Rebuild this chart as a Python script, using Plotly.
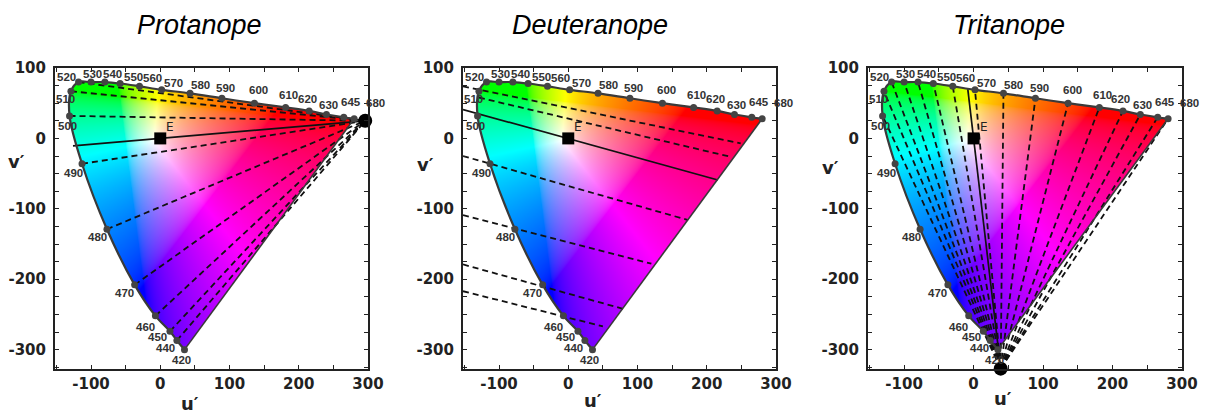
import base64
import struct
import zlib

import numpy as np
import plotly.graph_objects as go

# ---------------- data (u', v' scaled, equal-energy white E at the origin) ----------------
wavelengths = [420, 440, 450, 460, 470, 480, 490, 500, 510, 520, 530, 540,
               550, 560, 570, 580, 590, 600, 610, 620, 630, 645, 680]
locus_u = [35, 24, 14, -7, -37, -77, -113, -131, -129, -118, -100, -80,
           -58, -30, 2, 43, 89, 136, 181, 215, 240, 265, 280]
locus_v = [-300, -287, -274, -252, -208, -129, -36, 32, 67, 80, 80, 80,
           78, 74, 69, 64, 57, 50, 44, 39, 34, 30, 28]

white_u, white_v = 0, 0

# protanope: confusion lines from spectral points to the copunctal point
protan_copunct = (296, 25)
protan_from = [520, 510, 500, 490, 480, 470, 460, 450, 440]
protan_solid_start_u = -126

# deuteranope: confusion line segments
deutan_u0 = [-152, -129, -152, -152, -152, -152]
deutan_v0 = [74, 58, -25, -109, -179, -217]
deutan_u1 = [249, 234, 173, 120, 79, 50]
deutan_v1 = [-7, -26, -116, -178, -242, -267]
deutan_solid_u = [-152, 216]
deutan_solid_v = [41, -59]

# tritanope: confusion lines from the copunctal point to spectral points
tritan_copunct = (39, -327)
tritan_to = [500, 510, 520, 530, 540, 550, 560, 570, 580, 590,
             600, 610, 620, 630, 645, 680]
tritan_solid_end_v = 70

titles = ["Protanope", "Deuteranope", "Tritanope"]
x_ticks = [-150, -100, -50, 0, 50, 100, 150, 200, 250, 300]
y_ticks = list(range(-325, 101, 25))

# ---------------- styling ----------------
X_RANGE = [-152, 300]
Y_RANGE = [-327.5, 100]
X_DOMAINS = [(55 / 1205, 368 / 1205), (463 / 1205, 776 / 1205), (868 / 1205, 1182 / 1205)]
Y_DOMAIN = (1 - 369 / 413, 1 - 68 / 413)
TITLE_X = [199 / 1205, 590 / 1205, 1009 / 1205]
ULABEL_X = [190 / 1205, 593 / 1205, 1003 / 1205]
ULABEL_Y = [403, 400, 398]
VLABEL_X = [16 / 1205, 425 / 1205, 830 / 1205]
VLABEL_Y = [161, 165, 167]

# pixel offsets of each wavelength label from its point (dx right, dy up)
label_shift = {420: (-3, -10), 440: (-11, -8), 450: (-12, -6), 460: (-10, -11),
               470: (-10, -8), 480: (-9, -8), 490: (-9, -9), 500: (-2, -10),
               510: (-5, -8), 520: (-12, 5), 530: (1, 8), 540: (8, 8),
               550: (13, 6), 560: (13, 8), 570: (12, 7), 580: (10, 8),
               590: (4, 10), 600: (4, 13), 610: (3, 12), 620: (-2, 12),
               630: (2, 9), 645: (7, 15), 680: (21, 16)}

LOCUS_COLOR = "#3a3a3a"
DASH = "6px,4px"


def locus_point(wl):
    i = wavelengths.index(wl)
    return locus_u[i], locus_v[i]


def smooth_outline(us, vs, n=14):
    """Closed Catmull-Rom outline of the spectral locus (used to clip the colour fill)."""
    pts = np.column_stack([us, vs]).astype(float)
    P = np.vstack([pts[0], pts, pts[-1]])
    out = []
    for i in range(1, len(P) - 2):
        p0, p1, p2, p3 = P[i - 1], P[i], P[i + 1], P[i + 2]
        for t in np.linspace(0, 1, n, endpoint=False):
            t2, t3 = t * t, t * t * t
            out.append(0.5 * (2 * p1 + (-p0 + p2) * t
                              + (2 * p0 - 5 * p1 + 4 * p2 - p3) * t2
                              + (-p0 + 3 * p1 - 3 * p2 + p3) * t3))
    out.append(pts[-1])
    return np.array(out)


def inside_polygon(poly, X, Y):
    res = np.zeros(X.shape, dtype=bool)
    n = len(poly)
    j = n - 1
    for i in range(n):
        xi, yi = poly[i]
        xj, yj = poly[j]
        cond = ((yi > Y) != (yj > Y)) & (X < (xj - xi) * (Y - yi) / (yj - yi + 1e-12) + xi)
        res ^= cond
        j = i
    return res


def png_data_uri(rgba):
    """Encode an HxWx4 uint8 array (row 0 at the top) as a PNG data URI."""
    h, w, _ = rgba.shape
    raw = b"".join(b"\x00" + rgba[r].tobytes() for r in range(h))

    def chunk(tag, data):
        body = tag + data
        return struct.pack(">I", len(data)) + body + struct.pack(">I", zlib.crc32(body) & 0xFFFFFFFF)

    png = (b"\x89PNG\r\n\x1a\n"
           + chunk(b"IHDR", struct.pack(">IIBBBBB", w, h, 8, 6, 0, 0, 0))
           + chunk(b"IDAT", zlib.compress(raw, 9))
           + chunk(b"IEND", b""))
    return "data:image/png;base64," + base64.b64encode(png).decode()


def chromaticity_fill(step=1.0):
    u0, u1 = min(locus_u) - 5, max(locus_u) + 5
    v0, v1 = min(locus_v) - 5, max(locus_v) + 5
    nu = int(round((u1 - u0) / step))
    nv = int(round((v1 - v0) / step))
    us = u0 + (np.arange(nu) + 0.5) * step
    vs = v1 - (np.arange(nv) + 0.5) * step          # top row first
    U, V = np.meshgrid(us, vs)
    # plot units back to CIE 1976 u'v'
    up = 0.2105 + U / 680.0
    vp = 0.4737 + V / 660.0
    d = 6 * up - 16 * vp + 12
    x = 9 * up / d
    y = np.maximum(4 * vp / d, 1e-4)
    XYZ = np.stack([x / y, np.ones_like(x), (1 - x - y) / y], axis=-1)
    M = np.array([[3.2406, -1.5372, -0.4986],
                  [-0.9689, 1.8758, 0.0415],
                  [0.0557, -0.2040, 1.0570]])
    rgb = np.clip(XYZ @ M.T, 0, None)
    rgb = rgb / np.maximum(rgb.max(axis=-1, keepdims=True), 1e-9)
    rgb = np.where(rgb <= 0.0031308, 12.92 * rgb, 1.055 * rgb ** (1 / 2.4) - 0.055)
    poly = smooth_outline(locus_u, locus_v)
    alpha = inside_polygon(poly, U, V).astype(float)
    rgba = np.concatenate([rgb, alpha[..., None]], axis=-1)
    rgba = np.round(np.clip(rgba, 0, 1) * 255).astype(np.uint8)
    return png_data_uri(rgba), u0, v1, nu * step, nv * step


fill_src, fill_left, fill_top, fill_w, fill_h = chromaticity_fill()

fig = go.Figure()


def add_panel(k):
    xa = "x" if k == 1 else f"x{k}"
    ya = "y" if k == 1 else f"y{k}"
    fig.add_layout_image(source=fill_src, xref=xa, yref=ya, x=fill_left, y=fill_top,
                         sizex=fill_w, sizey=fill_h, xanchor="left", yanchor="top",
                         sizing="stretch", layer="below")

    dash_u, dash_v = [], []
    dot = None
    if k == 1:
        pu, pv = protan_copunct
        for wl in protan_from:
            lu, lv = locus_point(wl)
            dash_u += [lu, pu, None]
            dash_v += [lv, pv, None]
        su = protan_solid_start_u
        sv = white_v + (su - white_u) * (pv - white_v) / (pu - white_u)
        solid_u, solid_v = [su, pu], [sv, pv]
        dot = protan_copunct
    elif k == 2:
        for a, b, c, d in zip(deutan_u0, deutan_v0, deutan_u1, deutan_v1):
            dash_u += [a, c, None]
            dash_v += [b, d, None]
        solid_u, solid_v = deutan_solid_u, deutan_solid_v
    else:
        tu, tv = tritan_copunct
        for wl in tritan_to:
            lu, lv = locus_point(wl)
            dash_u += [tu, lu, None]
            dash_v += [tv, lv, None]
        ev = tritan_solid_end_v
        eu = white_u + (ev - white_v) * (tu - white_u) / (tv - white_v)
        solid_u, solid_v = [tu, eu], [tv, ev]
        dot = tritan_copunct

    fig.add_trace(go.Scatter(x=dash_u, y=dash_v, mode="lines", hoverinfo="skip",
                             line=dict(color="#111", width=1.8, dash=DASH),
                             xaxis=xa, yaxis=ya, showlegend=False))
    fig.add_trace(go.Scatter(x=solid_u, y=solid_v, mode="lines", hoverinfo="skip",
                             line=dict(color="#111", width=1.7),
                             xaxis=xa, yaxis=ya, showlegend=False))
    # spectral locus and the line of purples
    fig.add_trace(go.Scatter(x=locus_u, y=locus_v, mode="lines", hoverinfo="skip",
                             line=dict(color=LOCUS_COLOR, width=2.2, shape="spline", smoothing=1),
                             xaxis=xa, yaxis=ya, showlegend=False))
    fig.add_trace(go.Scatter(x=[locus_u[-1], locus_u[0]], y=[locus_v[-1], locus_v[0]],
                             mode="lines", hoverinfo="skip",
                             line=dict(color=LOCUS_COLOR, width=1.6),
                             xaxis=xa, yaxis=ya, showlegend=False))
    fig.add_trace(go.Scatter(x=locus_u, y=locus_v, mode="markers", hoverinfo="skip",
                             marker=dict(color="#444", size=7),
                             xaxis=xa, yaxis=ya, showlegend=False))
    fig.add_trace(go.Scatter(x=[white_u], y=[white_v], mode="markers", hoverinfo="skip",
                             marker=dict(color="#000", size=12, symbol="square"),
                             xaxis=xa, yaxis=ya, showlegend=False))
    if dot is not None:
        fig.add_trace(go.Scatter(x=[dot[0]], y=[dot[1]], mode="markers", hoverinfo="skip",
                                 marker=dict(color="#000", size=14), cliponaxis=False,
                                 xaxis=xa, yaxis=ya, showlegend=False))

    for wl, lu, lv in zip(wavelengths, locus_u, locus_v):
        dx, dy = label_shift[wl]
        fig.add_annotation(x=lu, y=lv, xref=xa, yref=ya, text=str(wl), showarrow=False,
                           xshift=dx, yshift=dy, xanchor="center", yanchor="middle",
                           font=dict(family="Liberation Sans", size=11.5, color="#333",
                                     weight="bold"))
    fig.add_annotation(x=white_u, y=white_v, xref=xa, yref=ya, text="E", showarrow=False,
                       xshift=10, yshift=11, xanchor="center", yanchor="middle",
                       font=dict(family="DejaVu Sans", size=12, color="#222"))

    axis_common = dict(showline=True, linewidth=2, linecolor="#222", mirror="allticks",
                       ticks="inside", ticklen=4, tickwidth=1.3, tickcolor="#222",
                       showgrid=False, zeroline=False, fixedrange=True, automargin=False,
                       tickfont=dict(family="DejaVu Sans", size=15, color="#222", weight="bold"))
    xname = "xaxis" if k == 1 else f"xaxis{k}"
    yname = "yaxis" if k == 1 else f"yaxis{k}"
    fig.update_layout(**{
        xname: dict(domain=list(X_DOMAINS[k - 1]), range=X_RANGE, anchor=ya,
                    tickvals=x_ticks,
                    ticktext=[str(t) if t % 100 == 0 else "" for t in x_ticks],
                    **axis_common),
        yname: dict(domain=list(Y_DOMAIN), range=Y_RANGE, anchor=xa,
                    tickvals=y_ticks,
                    ticktext=[str(t) if t % 100 == 0 else "" for t in y_ticks],
                    ticklabelstandoff=4, **axis_common),
    })

    fig.add_annotation(x=TITLE_X[k - 1], y=1 - 25 / 413, xref="paper", yref="paper",
                       text=titles[k - 1], showarrow=False,
                       xanchor="center", yanchor="middle",
                       font=dict(family="Liberation Sans", size=27, color="#000", style="italic"))
    fig.add_annotation(x=ULABEL_X[k - 1], y=1 - ULABEL_Y[k - 1] / 413, xref="paper", yref="paper",
                       text="u′", showarrow=False, xanchor="center", yanchor="middle",
                       font=dict(family="DejaVu Sans", size=18, color="#222", weight="bold"))
    fig.add_annotation(x=VLABEL_X[k - 1], y=1 - VLABEL_Y[k - 1] / 413, xref="paper", yref="paper",
                       text="v′", showarrow=False, xanchor="center", yanchor="middle",
                       font=dict(family="DejaVu Sans", size=18, color="#222", weight="bold"))


for k in (1, 2, 3):
    add_panel(k)

fig.update_layout(width=1205, height=413,
                  margin=dict(l=0, r=0, t=0, b=0, pad=0, autoexpand=False),
                  paper_bgcolor="white", plot_bgcolor="white", showlegend=False)

fig.write_html("out.html")
